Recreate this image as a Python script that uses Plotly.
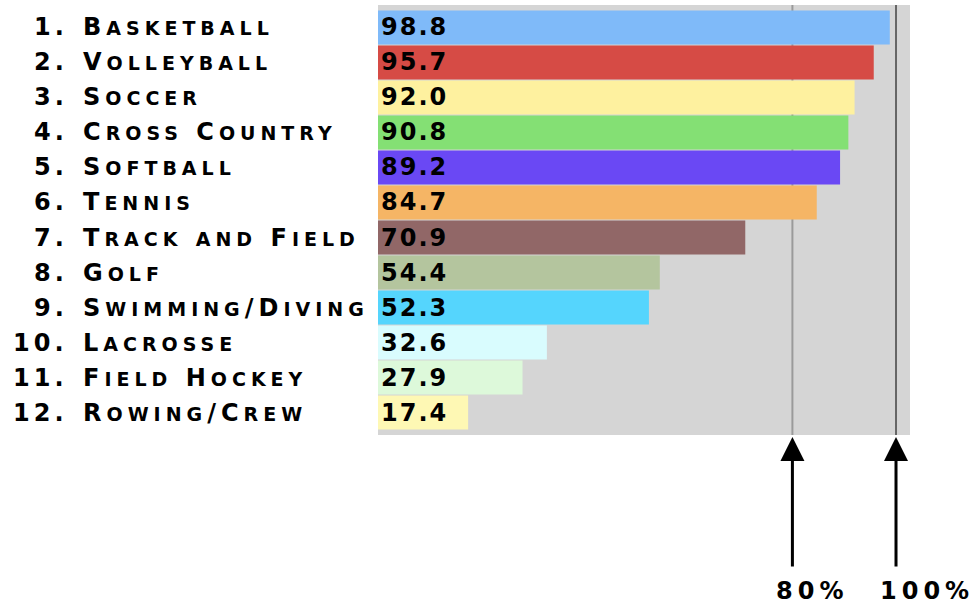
import plotly.graph_objects as go

ranks = [1, 2, 3, 4, 5, 6, 7, 8, 9, 10, 11, 12]
sports = ["Basketball", "Volleyball", "Soccer", "Cross Country", "Softball", "Tennis",
          "Track and Field", "Golf", "Swimming/Diving", "Lacrosse", "Field Hockey", "Rowing/Crew"]
values = [98.8, 95.7, 92.0, 90.8, 89.2, 84.7, 70.9, 54.4, 52.3, 32.6, 27.9, 17.4]
colors = ["#7fbaf9", "#d64b45", "#fef19f", "#84e074", "#6a48f4", "#f5b565",
          "#916767", "#b4c59e", "#55d5fd", "#d9fcfe", "#ddf9da", "#fef8b4"]
ref_lines = [80, 100]
ref_labels = ["80%", "100%"]
ref_colors = ["#9a9a9a", "#666666"]

FONT = "DejaVu Sans"


def smallcaps(text, big=24, small=19, ls=5):
    out = ""
    run = ""
    low = None
    for ch in text + "\0":
        is_low = ch.islower()
        if ch == "\0" or (low is not None and is_low != low):
            if run:
                size = small if low else big
                out += f'<span style="font-size:{size}px;letter-spacing:{ls}px">{run.upper()}</span>'
            run = ""
        if ch != "\0":
            run += ch
            low = is_low
    return out


fig = go.Figure()
fig.add_trace(go.Bar(
    x=values,
    y=sports,
    orientation="h",
    marker=dict(color=colors, line=dict(width=0)),
    text=[smallcaps(f"{v:.1f}", big=24, ls=2) for v in values],
    textposition="inside",
    insidetextanchor="start",
    textangle=0,
    constraintext="none",
    textfont=dict(family=FONT, color="black", size=24, weight="bold"),
    hoverinfo="skip",
))

for v, c in zip(ref_lines, ref_colors):
    fig.add_shape(type="line", xref="x", yref="paper", x0=v, x1=v, y0=0, y1=1,
                  line=dict(color=c, width=2), layer="below")

annotations = []
for r, s in zip(ranks, sports):
    annotations.append(dict(
        x=-0.5790, xref="paper", y=s, yref="y", xanchor="right", yanchor="middle",
        text=smallcaps(f"{r}.", ls=4), showarrow=False,
        font=dict(family=FONT, color="black", size=24, weight="bold")))
    annotations.append(dict(
        x=-0.5583, xref="paper", y=s, yref="y", xanchor="left", yanchor="middle",
        text=smallcaps(s), showarrow=False,
        font=dict(family=FONT, color="black", size=24, weight="bold")))

for v, lab in zip(ref_lines, ref_labels):
    annotations.append(dict(
        x=v, xref="x", y=0, yref="paper", text="", showarrow=True,
        ax=0, ay=133, arrowhead=2, arrowwidth=3, arrowsize=1.6,
        arrowcolor="black", standoff=2))
    annotations.append(dict(
        x=v, xref="x", y=0, yref="paper", xanchor="left", yanchor="bottom",
        xshift=-18, yshift=-172, text=smallcaps(lab, ls=5), showarrow=False,
        font=dict(family=FONT, color="black", size=24, weight="bold")))

fig.update_layout(
    width=976, height=608,
    margin=dict(l=378, r=66, t=5, b=173),
    paper_bgcolor="white",
    plot_bgcolor="#d5d5d5",
    bargap=0.03,
    showlegend=False,
    xaxis=dict(range=[0, 102.7], showgrid=False, zeroline=False, showticklabels=False,
               ticks="", fixedrange=True),
    yaxis=dict(categoryorder="array", categoryarray=sports, range=[11.64, -0.64],
               showgrid=False, zeroline=False, showticklabels=False, ticks="",
               fixedrange=True),
    annotations=annotations,
)

fig.write_html("out.html", config={"displayModeBar": False},
               post_script="document.body.style.margin='0';")
